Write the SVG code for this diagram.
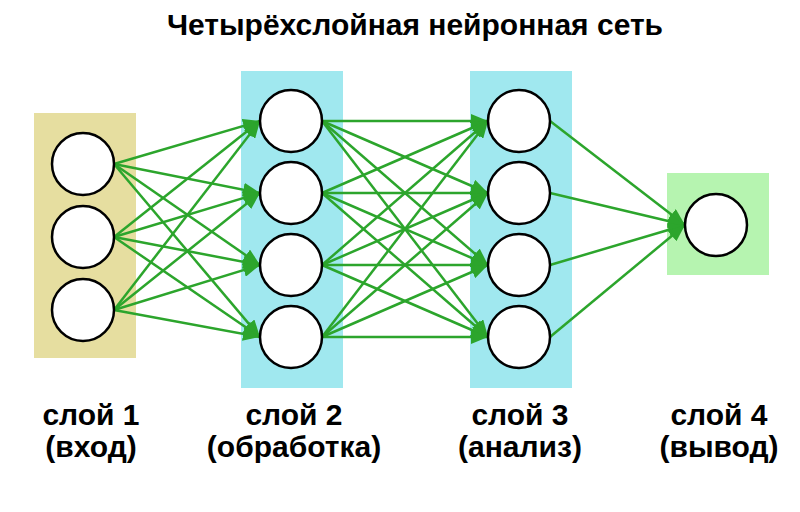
<svg xmlns="http://www.w3.org/2000/svg" width="800" height="512" viewBox="0 0 800 512">
<defs>
<marker id="ah" markerUnits="userSpaceOnUse" markerWidth="18" markerHeight="14" refX="17" refY="7" orient="auto">
<path d="M0,0 L17,7 L0,14 z" fill="#2ca52c"/>
</marker>
<style>
.n{fill:#fff;stroke:#000;stroke-width:2.5}
.e{stroke:#2ca52c;stroke-width:2.5;fill:none;marker-end:url(#ah)}
.t{font-family:"Liberation Sans",Arial,sans-serif;font-weight:bold;fill:#000;text-anchor:middle}
</style>
</defs>
<rect width="800" height="512" fill="#fff"/>
<text class="t" x="415" y="35" font-size="30">Четырёхслойная нейронная сеть</text>
<rect x="34" y="113" width="102" height="245" fill="#e6dea0"/>
<rect x="241" y="71" width="102" height="317" fill="#a0e8ef"/>
<rect x="470" y="71" width="102" height="317" fill="#a0e8ef"/>
<rect x="667" y="173" width="102" height="102" fill="#b6f4b0"/>
<g id="connectors">
<line class="e" x1="114" y1="164" x2="260" y2="121"/>
<line class="e" x1="114" y1="164" x2="260" y2="193"/>
<line class="e" x1="114" y1="164" x2="260" y2="265"/>
<line class="e" x1="114" y1="164" x2="260" y2="337"/>
<line class="e" x1="114" y1="237" x2="260" y2="121"/>
<line class="e" x1="114" y1="237" x2="260" y2="193"/>
<line class="e" x1="114" y1="237" x2="260" y2="265"/>
<line class="e" x1="114" y1="237" x2="260" y2="337"/>
<line class="e" x1="114" y1="310" x2="260" y2="121"/>
<line class="e" x1="114" y1="310" x2="260" y2="193"/>
<line class="e" x1="114" y1="310" x2="260" y2="265"/>
<line class="e" x1="114" y1="310" x2="260" y2="337"/>
<line class="e" x1="322" y1="121" x2="488" y2="121"/>
<line class="e" x1="322" y1="121" x2="488" y2="193"/>
<line class="e" x1="322" y1="121" x2="488" y2="265"/>
<line class="e" x1="322" y1="121" x2="488" y2="337"/>
<line class="e" x1="322" y1="193" x2="488" y2="121"/>
<line class="e" x1="322" y1="193" x2="488" y2="193"/>
<line class="e" x1="322" y1="193" x2="488" y2="265"/>
<line class="e" x1="322" y1="193" x2="488" y2="337"/>
<line class="e" x1="322" y1="265" x2="488" y2="121"/>
<line class="e" x1="322" y1="265" x2="488" y2="193"/>
<line class="e" x1="322" y1="265" x2="488" y2="265"/>
<line class="e" x1="322" y1="265" x2="488" y2="337"/>
<line class="e" x1="322" y1="337" x2="488" y2="121"/>
<line class="e" x1="322" y1="337" x2="488" y2="193"/>
<line class="e" x1="322" y1="337" x2="488" y2="265"/>
<line class="e" x1="322" y1="337" x2="488" y2="337"/>
<line class="e" x1="550" y1="121" x2="685" y2="225"/>
<line class="e" x1="550" y1="193" x2="685" y2="225"/>
<line class="e" x1="550" y1="265" x2="685" y2="225"/>
<line class="e" x1="550" y1="337" x2="685" y2="225"/>
</g>
<g id="l1n1"><circle class="n" cx="83" cy="164" r="31"/></g>
<g id="l1n2"><circle class="n" cx="83" cy="237" r="31"/></g>
<g id="l1n3"><circle class="n" cx="83" cy="310" r="31"/></g>
<g id="l2n1"><circle class="n" cx="291" cy="121" r="31"/></g>
<g id="l2n2"><circle class="n" cx="291" cy="193" r="31"/></g>
<g id="l2n3"><circle class="n" cx="291" cy="265" r="31"/></g>
<g id="l2n4"><circle class="n" cx="291" cy="337" r="31"/></g>
<g id="l3n1"><circle class="n" cx="519" cy="121" r="31"/></g>
<g id="l3n2"><circle class="n" cx="519" cy="193" r="31"/></g>
<g id="l3n3"><circle class="n" cx="519" cy="265" r="31"/></g>
<g id="l3n4"><circle class="n" cx="519" cy="337" r="31"/></g>
<g id="l4n1"><circle class="n" cx="716" cy="225" r="31"/></g>
<g id="labels">
<text class="t" x="91" y="425" font-size="30">слой 1</text>
<text class="t" x="91" y="457" font-size="30">(вход)</text>
<text class="t" x="294" y="425" font-size="30">слой 2</text>
<text class="t" x="294" y="457" font-size="30">(обработка)</text>
<text class="t" x="520" y="425" font-size="30">слой 3</text>
<text class="t" x="520" y="457" font-size="30">(анализ)</text>
<text class="t" x="719" y="425" font-size="30">слой 4</text>
<text class="t" x="719" y="457" font-size="30">(вывод)</text>
</g>
</svg>
